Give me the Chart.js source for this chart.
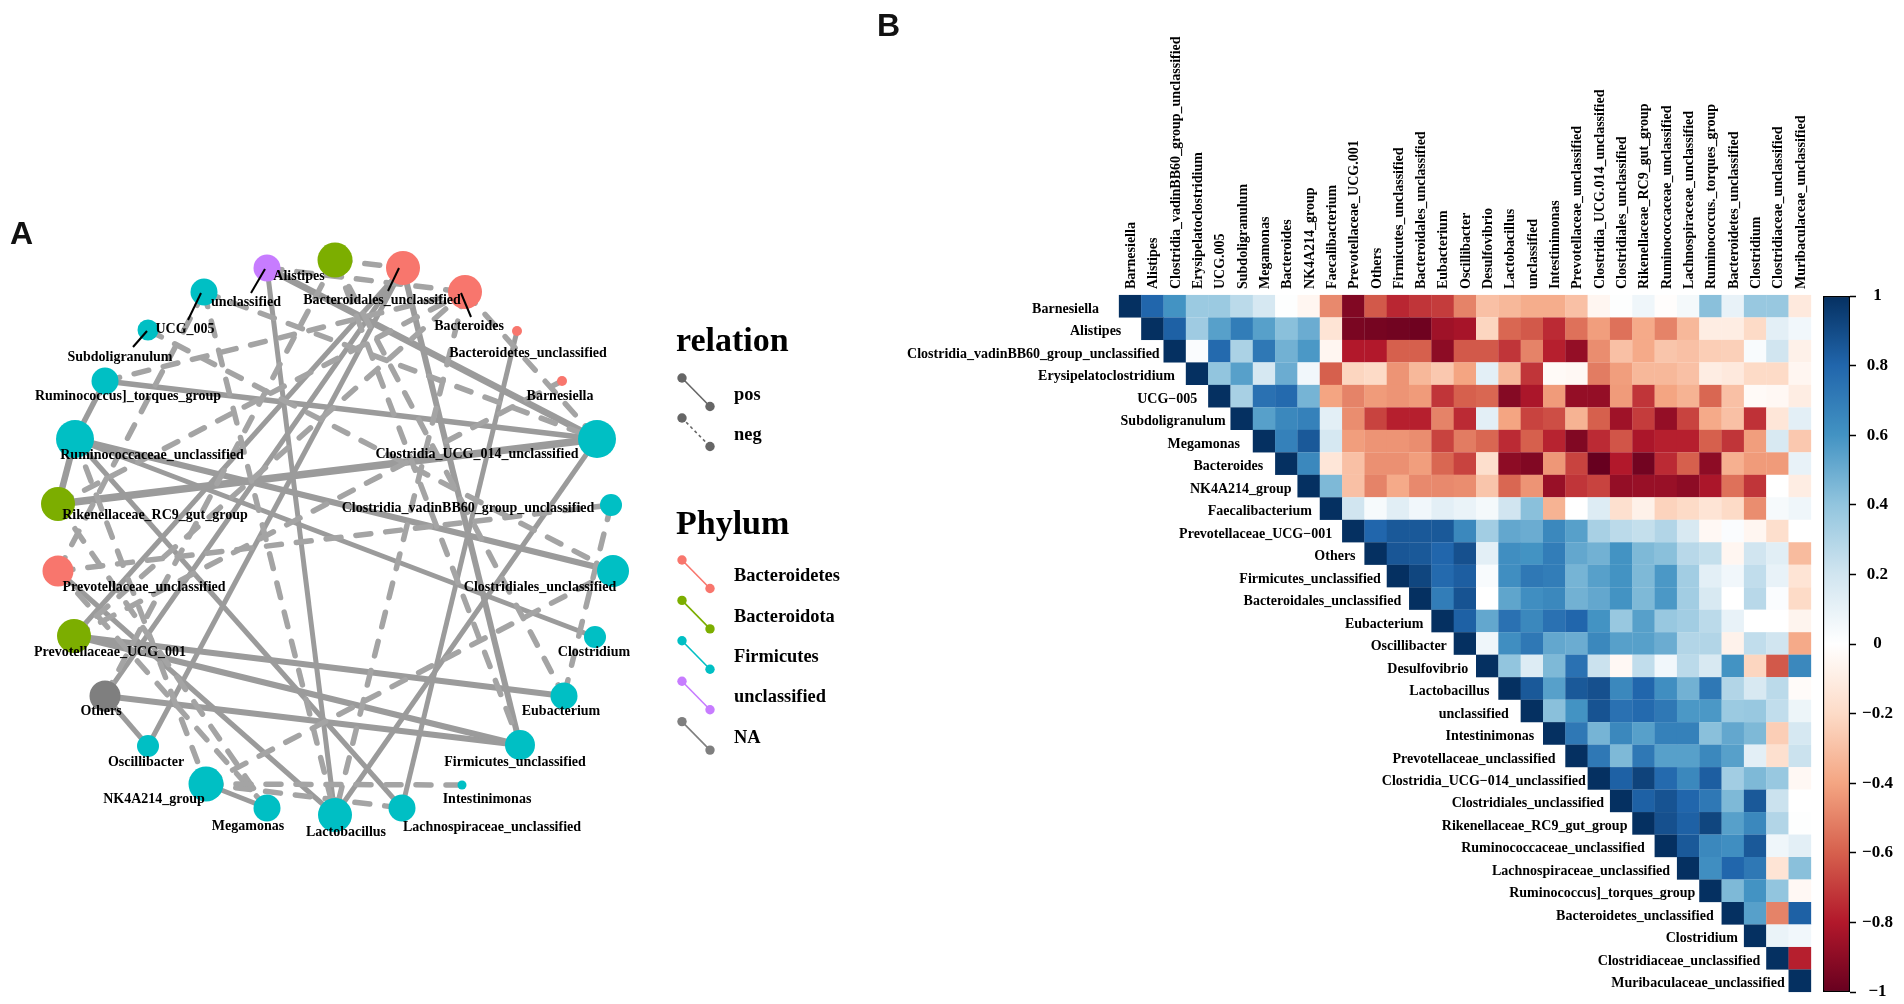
<!DOCTYPE html>
<html>
<head>
<meta charset="utf-8">
<title>Network and correlation heatmap</title>
<script src="https://cdn.jsdelivr.net/npm/chart.js@4/dist/chart.umd.min.js"></script>
<style>
  html, body { margin: 0; background: #fff; }
  body { position: relative; width: 1904px; height: 1004px; overflow: hidden; }
  canvas { position: absolute; top: 0; }
  .panel { position: absolute; font: bold 32px "Liberation Sans"; color: #111; line-height: 32px; }
</style>
</head>
<body>
<canvas id="network" width="880" height="1004" style="left:0"></canvas>
<canvas id="heatmap" width="935" height="1004" style="left:880px"></canvas>
<canvas id="colorbar" width="89" height="1004" style="left:1815px"></canvas>
<div class="panel" style="left:10px;top:217px">A</div>
<div class="panel" style="left:877px;top:9px">B</div>
<script>
// ---- panel A: network ----
const nodeNames = ['unclassified', 'Alistipes', 'Bacteroidales_unclassified', 'Bacteroides', 'Bacteroidetes_unclassified',
  'Barnesiella', 'Clostridia_UCG_014_unclassified', 'Clostridia_vadinBB60_group_unclassified', 'Clostridiales_unclassified',
  'Clostridium', 'Eubacterium', 'Firmicutes_unclassified', 'Intestinimonas', 'Lachnospiraceae_unclassified', 'Lactobacillus',
  'Megamonas', 'NK4A214_group', 'Oscillibacter', 'Others', 'Prevotellaceae_UCG_001', 'Prevotellaceae_unclassified',
  'Rikenellaceae_RC9_gut_group', 'Ruminococcaceae_unclassified', 'Ruminococcus]_torques_group', 'Subdoligranulum', 'UCG_005'];
const nodeX = [267, 335, 403, 465, 517, 562, 597, 611, 613, 595, 564, 520, 462, 402, 335, 267, 206, 148, 105, 74, 58, 58, 75, 105, 148, 204];
const nodeY = [268, 260, 268, 292, 331, 381, 439, 505, 571, 637, 696, 745, 785, 808, 815, 808, 784, 746, 696, 636, 571, 504, 439, 381, 330, 292];
const nodeSize = [13.5, 17.5, 17, 17, 5, 5, 19, 11, 16, 11, 13.5, 15, 4.5, 13.5, 17, 13.5, 17.5, 11, 15.5, 17, 15.5, 17, 19, 13.5, 10.5, 13.5];
const nodePhylum = ['unclassified', 'Bacteroidota', 'Bacteroidetes', 'Bacteroidetes', 'Bacteroidetes', 'Bacteroidetes', 'Firmicutes',
  'Firmicutes', 'Firmicutes', 'Firmicutes', 'Firmicutes', 'Firmicutes', 'Firmicutes', 'Firmicutes', 'Firmicutes', 'Firmicutes',
  'Firmicutes', 'Firmicutes', 'NA', 'Bacteroidota', 'Bacteroidetes', 'Bacteroidota', 'Firmicutes', 'Firmicutes', 'Firmicutes', 'Firmicutes'];
const labelX = [246, 299, 382, 469, 528, 560, 477, 468, 540, 594, 561, 515, 487, 492, 346, 248, 154, 146, 101, 110, 144, 155, 152, 128, 120, 185];
const labelY = [302, 276, 300, 326, 353, 396, 454, 508, 587, 652, 711, 762, 799, 827, 832, 826, 799, 762, 711, 652, 587, 515, 455, 396, 357, 329];

const phylumNames = ['Bacteroidetes', 'Bacteroidota', 'Firmicutes', 'unclassified', 'NA'];
const phylumColors = ['#F8766D', '#7CAE00', '#00BFC4', '#C77CFF', '#7F7F7F'];
const relationNames = ['pos', 'neg'];

// repel segments from a node to its label: x1, y1, x2, y2
const leaderLines = [[265, 269, 251, 293], [399, 268, 388, 291], [461, 293, 471, 317], [201, 293, 188, 320], [147, 331, 133, 347]];

// from, to, edge weight
const posEdges = [
  ['Clostridia_UCG_014_unclassified', 'Ruminococcus]_torques_group', 5.5],
  ['Clostridia_UCG_014_unclassified', 'Rikenellaceae_RC9_gut_group', 7.5],
  ['Clostridia_UCG_014_unclassified', 'unclassified', 6.5],
  ['Clostridia_UCG_014_unclassified', 'Lactobacillus', 5],
  ['unclassified', 'Lactobacillus', 5],
  ['Bacteroidales_unclassified', 'Firmicutes_unclassified', 6],
  ['Bacteroidetes_unclassified', 'Lachnospiraceae_unclassified', 5],
  ['Bacteroidales_unclassified', 'Others', 5],
  ['Bacteroidales_unclassified', 'Oscillibacter', 5],
  ['Bacteroidales_unclassified', 'Prevotellaceae_UCG_001', 5],
  ['Ruminococcaceae_unclassified', 'Clostridiales_unclassified', 6],
  ['Ruminococcaceae_unclassified', 'Clostridium', 5],
  ['Ruminococcaceae_unclassified', 'Lachnospiraceae_unclassified', 5],
  ['Ruminococcaceae_unclassified', 'Rikenellaceae_RC9_gut_group', 6.5],
  ['Ruminococcus]_torques_group', 'Ruminococcaceae_unclassified', 5.5],
  ['Prevotellaceae_UCG_001', 'Eubacterium', 6],
  ['Prevotellaceae_UCG_001', 'Firmicutes_unclassified', 6],
  ['Others', 'Firmicutes_unclassified', 6],
  ['Others', 'Oscillibacter', 5],
  ['Prevotellaceae_unclassified', 'Lactobacillus', 5],
  ['NK4A214_group', 'Megamonas', 5]
];

const negEdges = [
  ['Alistipes', 'Bacteroidales_unclassified'],
  ['unclassified', 'Bacteroides'],
  ['Bacteroides', 'Clostridia_UCG_014_unclassified'],
  ['UCG_005', 'Clostridia_UCG_014_unclassified'],
  ['Prevotellaceae_unclassified', 'Clostridia_vadinBB60_group_unclassified'],
  ['Clostridia_vadinBB60_group_unclassified', 'Eubacterium'],
  ['Alistipes', 'Eubacterium'],
  ['NK4A214_group', 'Clostridiales_unclassified'],
  ['NK4A214_group', 'Intestinimonas'],
  ['NK4A214_group', 'Lachnospiraceae_unclassified'],
  ['Prevotellaceae_unclassified', 'Megamonas'],
  ['Ruminococcaceae_unclassified', 'NK4A214_group'],
  ['Rikenellaceae_RC9_gut_group', 'Megamonas'],
  ['UCG_005', 'Lactobacillus'],
  ['Bacteroides', 'Lactobacillus'],
  ['Prevotellaceae_UCG_001', 'Bacteroides'],
  ['UCG_005', 'Prevotellaceae_unclassified'],
  ['Subdoligranulum', 'Clostridiales_unclassified'],
  ['Ruminococcus]_torques_group', 'Bacteroides'],
  ['Rikenellaceae_RC9_gut_group', 'Bacteroides'],
  ['Others', 'Alistipes'],
  ['Alistipes', 'Firmicutes_unclassified'],
  ['Prevotellaceae_UCG_001', 'Barnesiella']
];

// ---- panel B: heatmap ----
const colLabels = ['Barnesiella', 'Alistipes', 'Clostridia_vadinBB60_group_unclassified', 'Erysipelatoclostridium', 'UCG.005',
  'Subdoligranulum', 'Megamonas', 'Bacteroides', 'NK4A214_group', 'Faecalibacterium', 'Prevotellaceae_UCG.001', 'Others',
  'Firmicutes_unclassified', 'Bacteroidales_unclassified', 'Eubacterium', 'Oscillibacter', 'Desulfovibrio', 'Lactobacillus',
  'unclassified', 'Intestinimonas', 'Prevotellaceae_unclassified', 'Clostridia_UCG.014_unclassified', 'Clostridiales_unclassified',
  'Rikenellaceae_RC9_gut_group', 'Ruminococcaceae_unclassified', 'Lachnospiraceae_unclassified', 'Ruminococcus._torques_group',
  'Bacteroidetes_unclassified', 'Clostridium', 'Clostridiaceae_unclassified', 'Muribaculaceae_unclassified'];
const rowLabels = ['Barnesiella', 'Alistipes', 'Clostridia_vadinBB60_group_unclassified', 'Erysipelatoclostridium', 'UCG\u2212005',
  'Subdoligranulum', 'Megamonas', 'Bacteroides', 'NK4A214_group', 'Faecalibacterium', 'Prevotellaceae_UCG\u2212001', 'Others',
  'Firmicutes_unclassified', 'Bacteroidales_unclassified', 'Eubacterium', 'Oscillibacter', 'Desulfovibrio', 'Lactobacillus',
  'unclassified', 'Intestinimonas', 'Prevotellaceae_unclassified', 'Clostridia_UCG\u2212014_unclassified', 'Clostridiales_unclassified',
  'Rikenellaceae_RC9_gut_group', 'Ruminococcaceae_unclassified', 'Lachnospiraceae_unclassified', 'Ruminococcus]_torques_group',
  'Bacteroidetes_unclassified', 'Clostridium', 'Clostridiaceae_unclassified', 'Muribaculaceae_unclassified'];
// gap between a row label and its diagonal cell, it varies in the original
const rowLabelGap = [20, 20, 4, 11, 11, 5, 13, 12, 6, 8, 10, 9, 6, 8, 8, 7, 8, 9, 12, 9, 10, 2, 6, 5, 10, 7, 4, 8, 6, 6, 4];

// upper triangle, each row starts on the diagonal
const corrValues = [
  [1, .8, .6, .37, .37, .27, .18, .01, -.05, -.48, -.93, -.62, -.76, -.72, -.7, -.5, -.3, -.33, -.37, -.37, -.3, -.05, .01, .07, -.01, .05, .42, .1, .38, .38, -.12],
  [1, .82, .36, .55, .7, .55, .42, .5, -.15, -.95, -.96, -.97, -.98, -.85, -.83, -.22, -.58, -.62, -.75, -.55, -.42, -.55, -.38, -.5, -.33, -.1, -.1, -.2, .12, .06],
  [1, .02, .78, .32, .72, .48, .58, -.05, -.8, -.8, -.6, -.6, -.9, -.62, -.62, -.72, -.5, -.78, -.88, -.47, -.3, -.38, -.28, -.3, -.25, -.24, .03, .2, -.08],
  [1, .4, .55, .18, .5, .06, -.6, -.22, -.2, -.45, -.33, -.27, -.4, .12, -.33, -.72, -.03, -.04, -.52, -.42, -.33, -.33, -.3, -.1, -.12, -.2, -.2, -.05],
  [1, .33, .75, .78, .47, -.4, -.5, -.43, -.45, -.43, -.72, -.6, -.58, -.92, -.82, -.43, -.88, -.88, -.43, -.72, -.4, -.35, -.58, -.3, -.03, -.04, -.1],
  [1, .55, .65, .68, .12, -.47, -.68, -.78, -.78, -.5, -.75, .12, -.4, -.68, -.65, -.35, -.6, -.85, -.7, -.88, -.68, -.38, -.3, -.73, -.14, .12],
  [1, .68, .85, .18, -.42, -.45, -.45, -.47, -.68, -.52, -.58, -.75, -.6, -.77, -.93, -.75, -.63, -.82, -.78, -.78, -.6, -.72, -.42, .17, -.27],
  [1, .65, -.14, -.3, -.46, -.46, -.42, -.58, -.68, -.18, -.9, -.93, -.44, -.68, -1, -.8, -.97, -.75, -.6, -.9, -.36, -.43, -.43, .1],
  [1, .45, -.3, -.5, -.38, -.48, -.48, -.47, -.28, -.58, -.45, -.87, -.72, -.68, -.88, -.87, -.87, -.9, -.82, -.55, -.72, 0, -.1],
  [1, .2, .04, .13, .06, .12, .09, .05, .2, .42, -.35, 0, .15, -.17, -.08, -.23, -.2, -.15, -.2, -.47, .04, .07],
  [1, .8, .85, .85, .85, .65, .35, .52, .5, .65, .55, .33, .27, .24, .3, .17, -.04, .02, -.05, -.18, 0],
  [1, .86, .85, .8, .88, .12, .62, .6, .7, .52, .48, .6, .45, .42, .28, .24, -.05, .2, .13, -.32],
  [1, .92, .78, .83, .03, .62, .72, .7, .47, .55, .6, .45, .58, .35, .12, .06, .25, .1, -.15],
  [1, .7, .87, 0, .53, .62, .65, .48, .52, .6, .45, .58, .35, .17, 0, .28, .02, -.2],
  [1, .82, .52, .75, .65, .75, .8, .6, .38, .55, .38, .35, .27, .1, 0, 0, -.06],
  [1, .07, .62, .72, .52, .5, .65, .55, .55, .5, .3, .3, -.07, .25, .2, -.38],
  [1, .4, .15, .45, .75, .22, -.04, .25, .06, .27, .17, .6, -.22, -.62, .65],
  [1, .85, .55, .85, .88, .65, .8, .62, .48, .72, .3, .17, .27, -.02],
  [1, .42, .6, .87, .75, .78, .72, .58, .58, .37, .38, .25, .08],
  [1, .72, .47, .65, .55, .68, .68, .42, .52, .45, -.25, .18],
  [1, .72, .45, .72, .55, .55, .65, .55, .12, -.17, .22],
  [1, .82, .93, .78, .65, .83, .35, .45, .38, -.04],
  [1, .82, .87, .8, .72, .45, .85, .22, 0],
  [1, .88, .82, .92, .55, .65, .3, .01],
  [1, .85, .65, .62, .85, .07, .12],
  [1, .62, .8, .72, -.15, .42],
  [1, .45, .6, .4, -.04],
  [1, .55, -.5, .82],
  [1, .09, .06],
  [1, -.78],
  [1]
];

const colorStops = ['#67001F', '#B2182B', '#D6604D', '#F4A582', '#FDDBC7', '#FFFFFF', '#D1E5F0', '#92C5DE', '#4393C3', '#2166AC', '#053061'];

// ---- helpers ----
const SERIF = '"Liberation Serif"';
const EDGE_GREY = '#9b9b9b';
const DASH_GREY = '#a4a4a4';

function hexRgb(h) {
  return [parseInt(h.slice(1, 3), 16), parseInt(h.slice(3, 5), 16), parseInt(h.slice(5, 7), 16)];
}

function corrColor(v) {
  const p = (v + 1) / 2 * (colorStops.length - 1);
  const i = Math.min(Math.floor(p), colorStops.length - 2);
  const a = hexRgb(colorStops[i]), b = hexRgb(colorStops[i + 1]), t = p - i;
  return `rgb(${a.map((c, k) => Math.round(c + (b[k] - c) * t)).join(',')})`;
}

function nodePoint(name) {
  const i = nodeNames.indexOf(name);
  return { x: nodeX[i], y: nodeY[i] };
}

function lineSet(points, color, width, extra) {
  return Object.assign({
    type: 'scatter', showLine: true, data: points, borderColor: color, borderWidth: width,
    pointRadius: 0, order: 3, clip: false
  }, extra);
}

// ---- network chart ----
const netDatasets = [];
negEdges.forEach(e => netDatasets.push(lineSet([nodePoint(e[0]), nodePoint(e[1])], DASH_GREY, 5.5, { borderDash: [15, 15], borderCapStyle: 'round' })));
posEdges.forEach(e => netDatasets.push(lineSet([nodePoint(e[0]), nodePoint(e[1])], EDGE_GREY, e[2], {})));

netDatasets.push({
  data: nodeNames.map((n, i) => ({ x: nodeX[i], y: nodeY[i] })),
  pointRadius: nodeSize,
  pointBackgroundColor: nodePhylum.map(p => phylumColors[phylumNames.indexOf(p)]),
  pointBorderWidth: 0, order: 2, clip: false
});

leaderLines.forEach(l => netDatasets.push(lineSet([{ x: l[0], y: l[1] }, { x: l[2], y: l[3] }], '#000', 2, { order: 1 })));

// legend keys
const KEY_X = [682, 710], KEY_R = 4.7;
function keyLine(y, color, dash) {
  netDatasets.push(lineSet([{ x: KEY_X[0], y: y }, { x: KEY_X[1], y: y + 28.5 }], color, 1.6, {
    pointRadius: KEY_R, pointBackgroundColor: color, pointBorderWidth: 0, order: 1, borderDash: dash || []
  }));
}
keyLine(378, '#666666');
keyLine(418, '#666666', [3, 3]);
phylumNames.forEach((p, i) => keyLine(560 + i * 40.4, phylumColors[i]));

const netText = {
  id: 'netText',
  afterDraw(chart) {
    const { ctx, scales: { x, y } } = chart;
    ctx.save();
    ctx.fillStyle = '#000';
    ctx.textBaseline = 'middle';
    ctx.textAlign = 'center';
    ctx.font = `bold 14px ${SERIF}`;
    nodeNames.forEach((n, i) => ctx.fillText(n, x.getPixelForValue(labelX[i]), y.getPixelForValue(labelY[i])));
    ctx.textAlign = 'left';
    ctx.font = `bold 18.4px ${SERIF}`;
    relationNames.forEach((n, i) => ctx.fillText(n, x.getPixelForValue(734), y.getPixelForValue(395 + i * 40.5)));
    phylumNames.forEach((n, i) => ctx.fillText(n, x.getPixelForValue(734), y.getPixelForValue(576.5 + i * 40.4)));
    ctx.textBaseline = 'alphabetic';
    ctx.font = `bold 34px ${SERIF}`;
    ctx.fillText('relation', x.getPixelForValue(676), y.getPixelForValue(351));
    ctx.fillText('Phylum', x.getPixelForValue(676), y.getPixelForValue(534));
    ctx.restore();
  }
};

new Chart(document.getElementById('network'), {
  type: 'scatter',
  data: { datasets: netDatasets },
  options: {
    responsive: false, animation: false, events: [],
    layout: { padding: 0, autoPadding: false },
    plugins: { legend: { display: false }, tooltip: { enabled: false } },
    scales: {
      x: { type: 'linear', min: 0, max: 880, display: false },
      y: { type: 'linear', min: 0, max: 1004, reverse: true, display: false }
    }
  },
  plugins: [netText]
});

// ---- heatmap chart ----
const cells = [];
corrValues.forEach((row, i) => row.forEach((v, k) => cells.push({ x: colLabels[i + k], y: rowLabels[i], v: v })));

const rowText = {
  id: 'rowText',
  afterDraw(chart) {
    const { ctx, scales: { x, y } } = chart;
    const half = (x.getPixelForValue(1) - x.getPixelForValue(0)) / 2;
    ctx.save();
    ctx.fillStyle = '#000';
    ctx.textAlign = 'right';
    ctx.textBaseline = 'middle';
    ctx.font = `bold 14px ${SERIF}`;
    rowLabels.forEach((n, i) => ctx.fillText(n, x.getPixelForValue(i) - half - rowLabelGap[i], y.getPixelForValue(i) + 3));
    ctx.restore();
  }
};

new Chart(document.getElementById('heatmap'), {
  type: 'scatter',
  data: {
    datasets: [{
      data: cells,
      pointStyle: 'rect',
      pointRadius: 16, // rect side is radius * sqrt(2)
      pointBorderWidth: 0,
      pointBackgroundColor: ctx => corrColor(ctx.raw.v),
      clip: false
    }]
  },
  options: {
    responsive: false, animation: false, events: [],
    layout: { padding: { left: 239, right: 4, top: 0, bottom: 12 }, autoPadding: false },
    plugins: { legend: { display: false }, tooltip: { enabled: false } },
    scales: {
      x: {
        type: 'category', labels: colLabels, position: 'top', offset: true,
        afterFit(scale) { scale.height = 295; scale.paddingLeft = 0; scale.paddingRight = 0; },
        grid: { display: false }, border: { display: false },
        ticks: { autoSkip: false, minRotation: 90, maxRotation: 90, padding: -2, labelOffset: 18, color: '#000', font: { family: SERIF, weight: 'bold', size: 14 } }
      },
      y: { type: 'category', labels: rowLabels, offset: true, display: false }
    }
  },
  plugins: [rowText]
});

// ---- colour bar ----
function barGradient(ctx) {
  const area = ctx.chart.chartArea;
  if (!area) return '#fff';
  const g = ctx.chart.ctx.createLinearGradient(0, area.bottom, 0, area.top);
  colorStops.forEach((c, i) => g.addColorStop(i / (colorStops.length - 1), c));
  return g;
}

new Chart(document.getElementById('colorbar'), {
  type: 'bar',
  data: {
    labels: ['corr'],
    datasets: [{
      data: [[-1, 1]], backgroundColor: barGradient, borderColor: '#000', borderWidth: 1.5, borderSkipped: false,
      barPercentage: 1, categoryPercentage: 1
    }]
  },
  options: {
    responsive: false, animation: false, events: [],
    layout: { padding: { left: 8, right: 0, top: 296, bottom: 12 }, autoPadding: false },
    plugins: { legend: { display: false }, tooltip: { enabled: false } },
    scales: {
      x: { display: false },
      y: {
        position: 'right', min: -1, max: 1,
        afterFit(scale) { scale.width = 54; scale.paddingTop = 0; scale.paddingBottom = 0; },
        grid: { drawOnChartArea: false, tickLength: 6, color: '#000', tickColor: '#000', tickWidth: 1.5 },
        border: { display: false },
        ticks: {
          stepSize: 0.2, padding: 6, crossAlign: 'center', color: '#000',
          font: { family: SERIF, weight: 'bold', size: 17 },
          callback: v => String(Math.round(v * 10) / 10).replace('-', '\u2212')
        }
      }
    }
  }
});
</script>
</body>
</html>
